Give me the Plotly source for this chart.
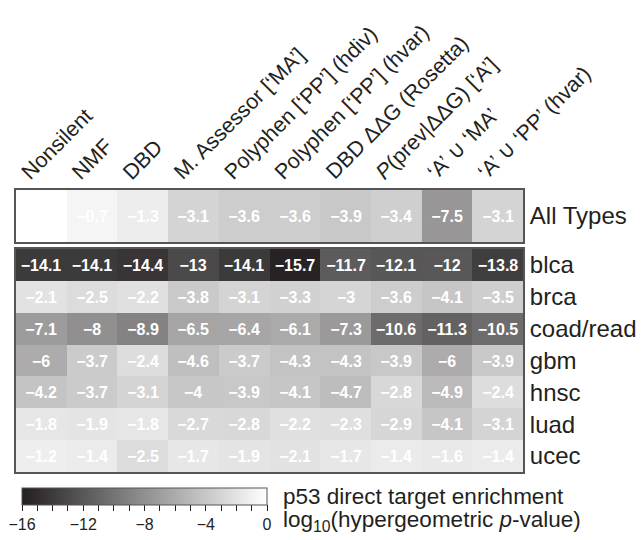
import plotly.graph_objects as go

columns = ["Nonsilent", "NMF", "DBD", "M. Assessor [‘MA’]", "Polyphen [‘PP’] (hdiv)",
           "Polyphen [‘PP’] (hvar)", "DBD ΔΔG (Rosetta)", "<i>P</i>(prev|ΔΔG) [‘A’]",
           "‘A’ ∪ ‘MA’", "‘A’ ∪ ‘PP’ (hvar)"]
all_label = ["All Types"]
all_types = [None, -0.7, -1.3, -3.1, -3.6, -3.6, -3.9, -3.4, -7.5, -3.1]

tumors = ["blca", "brca", "coad/read", "gbm", "hnsc", "luad", "ucec"]
blca = [-14.1, -14.1, -14.4, -13, -14.1, -15.7, -11.7, -12.1, -12, -13.8]
brca = [-2.1, -2.5, -2.2, -3.8, -3.1, -3.3, -3, -3.6, -4.1, -3.5]
coad_read = [-7.1, -8, -8.9, -6.5, -6.4, -6.1, -7.3, -10.6, -11.3, -10.5]
gbm = [-6, -3.7, -2.4, -4.6, -3.7, -4.3, -4.3, -3.9, -6, -3.9]
hnsc = [-4.2, -3.7, -3.1, -4, -3.9, -4.1, -4.7, -2.8, -4.9, -2.4]
luad = [-1.8, -1.9, -1.8, -2.7, -2.8, -2.2, -2.3, -2.9, -4.1, -3.1]
ucec = [-1.2, -1.4, -2.5, -1.7, -1.9, -2.1, -1.7, -1.4, -1.6, -1.4]

cbar_vals = list(range(-16, 1))
cbar_label_vals = [-16, -12, -8, -4, 0]

FONT = "Liberation Sans, Arial, Helvetica, sans-serif"
INK = "#231f20"


def fmt(v):
    if v is None:
        return ""
    return f"{v:g}".replace("-", "−")


tumor_z = [blca, brca, coad_read, gbm, hnsc, luad, ucec]
ncol = len(columns)
xidx = list(range(ncol))

fig = go.Figure()
fig.add_trace(go.Heatmap(
    z=[all_types], x=xidx, y=all_label,
    text=[[fmt(v) for v in all_types]], texttemplate="%{text}",
    textfont=dict(color="white", size=16, family=FONT, weight="bold"),
    coloraxis="coloraxis", xaxis="x", yaxis="y", hoverinfo="skip",
))
fig.add_trace(go.Heatmap(
    z=tumor_z, x=xidx, y=tumors,
    text=[[fmt(v) for v in row] for row in tumor_z], texttemplate="%{text}",
    textfont=dict(color="white", size=16, family=FONT, weight="bold"),
    coloraxis="coloraxis", xaxis="x2", yaxis="y2", hoverinfo="skip",
))

# page offset of the figure (default body margin)
OFF = 8
W, H = 644 - OFF, 540 - OFF
# plot area in page pixels
L, R = 16, 523
TOP, BOT = 190, 472
PH = BOT - TOP
PW = R - L


def py(pix):
    return (BOT - pix) / PH


def px(pix):
    return (pix - L) / PW


axis_common = dict(showline=True, mirror=True, linecolor="#555555", linewidth=2,
                   showgrid=False, zeroline=False, ticks="", automargin=False)

fig.update_layout(
    template="none",
    width=W, height=H,
    margin=dict(l=L - OFF, r=W - (R - OFF), t=TOP - OFF, b=H - (BOT - OFF), autoexpand=False),
    paper_bgcolor="white", plot_bgcolor="white",
    font=dict(family=FONT, color=INK),
    xaxis=dict(domain=[0, 1], range=[-0.5, ncol - 0.5], showticklabels=False, anchor="y", **axis_common),
    yaxis=dict(domain=[py(242), 1], side="right", tickfont=dict(size=24, color=INK),
               ticklabelstandoff=0, anchor="x", **axis_common),
    xaxis2=dict(domain=[0, 1], range=[-0.5, ncol - 0.5], showticklabels=False, anchor="y2", **axis_common),
    yaxis2=dict(domain=[0, py(249)], side="right", autorange="reversed",
                tickfont=dict(size=24, color=INK), ticklabelstandoff=0, anchor="x2", **axis_common),
    coloraxis=dict(
        cmin=-16, cmax=0,
        colorscale=[[0, "#231f20"], [1, "#ffffff"]],
        colorbar=dict(
            orientation="h", x=px(22), xanchor="left",
            y=py(488), yanchor="top", len=245, lenmode="pixels", thickness=17,
            xpad=0, ypad=0,
            outlinewidth=1, outlinecolor="#555555",
            ticks="outside", ticklen=6, tickcolor=INK, tickwidth=1,
            tickvals=cbar_vals,
            ticktext=[fmt(v) if v in cbar_label_vals else "" for v in cbar_vals],
            tickfont=dict(size=16, family=FONT, color=INK),
            ticklabeloverflow="allow",
        ),
    ),
    showlegend=False,
)

annotations = []
col_w = PW / ncol
for i, c in enumerate(columns):
    annotations.append(dict(
        text=c, x=px(L + col_w * i - 2), xref="paper", y=1, yref="paper", yshift=3,
        xanchor="left", yanchor="bottom", textangle=-45, showarrow=False,
        font=dict(size=21.5, family=FONT, color=INK),
    ))
annotations.append(dict(
    text="p53 direct target enrichment", x=px(281), xref="paper",
    y=py(496), yref="paper", xanchor="left", yanchor="middle", showarrow=False,
    font=dict(size=22.5, family=FONT, color=INK),
))
annotations.append(dict(
    text="log<sub>10</sub>(hypergeometric <i>p</i>-value)", x=px(281), xref="paper",
    y=py(521), yref="paper", xanchor="left", yanchor="middle", showarrow=False,
    font=dict(size=22.5, family=FONT, color=INK),
))
fig.update_layout(annotations=annotations)

fig.write_html("out.html")
